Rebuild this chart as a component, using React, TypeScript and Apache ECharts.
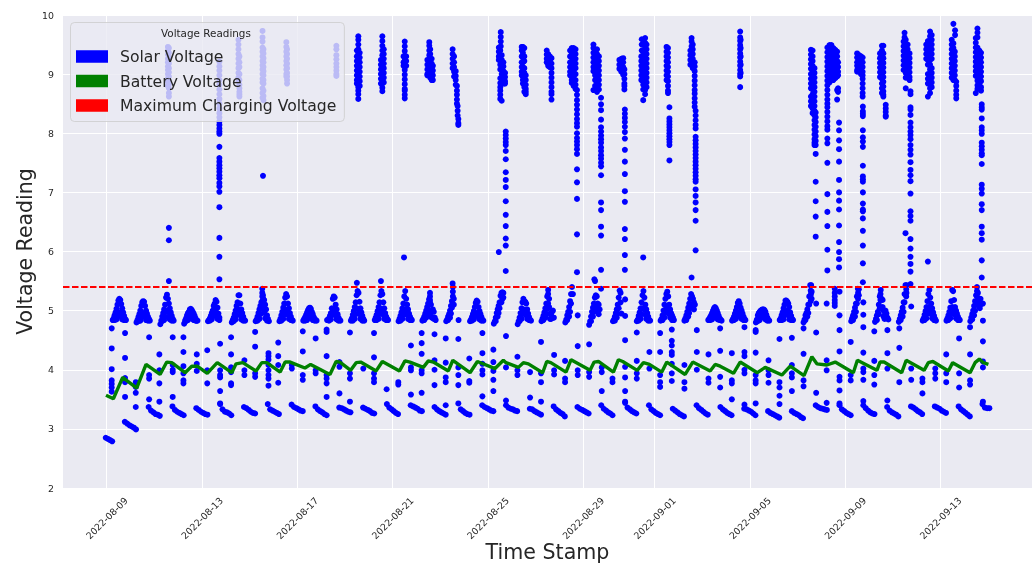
import React, { useEffect, useRef } from "react";
import * as echarts from "echarts";

const tickDays = [0, 4, 8, 12, 16, 20, 23, 27, 31, 35];
const tickLabels = ["2022-08-09", "2022-08-13", "2022-08-17", "2022-08-21", "2022-08-25", "2022-08-29", "2022-09-01", "2022-09-05", "2022-09-09", "2022-09-13"];
const yTicks = [2, 3, 4, 5, 6, 7, 8, 9, 10];
const maxChargingVoltage = 5.4;
const xExtent = [-1.835, 38.84];

type N = number | null;

const batteryVoltage: number[][] = [
  [-0.03,3.57],[0.28,3.51],[0.67,3.87],[1.26,3.69],[1.65,4.09],[2.24,3.92],[2.52,4.13],[2.73,4.12],[3.29,3.95],[3.57,4.06],[3.8,4.06],[4.22,3.94],[4.64,4.12],[5.25,3.95],[5.43,4.1],[5.71,4.12],[6.27,3.98],[6.51,4.12],[6.72,4.12],[7.28,3.96],[7.49,4.13],[7.7,4.13],[8.32,4.03],[8.56,4.09],[9.37,3.92],[9.63,4.14],[9.79,4.13],[10.24,3.99],[10.47,4.12],[10.66,4.13],[11.31,3.98],[11.57,4.14],[12.29,3.98],
  [12.52,4.15],[12.73,4.13],[13.29,4.04],[13.5,4.15],[13.71,4.13],[14.34,3.98],[14.53,4.16],[15.25,3.95],[15.56,4.14],[16.3,4.02],[16.65,4.16],[16.76,4.12],[17.28,4.04],[17.49,4.12],[17.7,4.1],[18.3,3.95],[18.47,4.14],[18.64,4.12],[19.28,3.96],[19.49,4.17],[20.29,3.99],[20.46,4.13],[20.64,4.14],[21.27,3.96],[21.48,4.17],[21.66,4.14],[22.27,3.99],[22.53,4.12],[22.78,4.09],[23.3,3.96],[23.51,4.13],[24.28,3.92],[24.6,4.13],[25.33,3.98],[25.54,4.09],
  [25.75,4.06],[26.31,3.94],[26.59,4.13],[27.31,3.95],[27.64,4.04],[28.34,3.91],[28.69,4.06],[29.27,3.9],[29.6,4.22],[29.81,4.1],[30.23,4.08],[30.58,4.13],[31.34,3.95],[31.51,4.16],[32.33,3.99],[32.46,4.13],[32.63,4.13],[33.37,3.95],[33.56,4.16],[34.31,3.99],[34.49,4.12],[34.68,4.14],[35.33,3.98],[35.51,4.12],[36.24,3.95],[36.45,4.12],[36.63,4.18],[36.8,4.12],[37.01,4.09],
];

// Falling readings just after each dawn: [day, readings at lowOffsets]
const lowOffsets = [-0.24, -0.14, -0.04, 0.05, 0.14, 0.23];
const lowBand: N[][] = [
  [null,null,2.85,2.83,2.81,2.79],[3.12,3.09,3.06,3.04,3.02,2.99],[3.37,3.31,3.28,3.25,3.24,3.22],[3.38,3.32,3.29,3.27,3.25,3.23],[3.35,3.32,3.29,3.27,3.25,3.24],[3.42,3.33,3.29,3.28,3.26,3.23],[3.37,3.35,3.32,3.29,3.27,3.26],[3.42,3.33,3.31,3.29,3.27,3.25],[3.41,3.37,3.35,3.33,3.31,3.3],[3.38,3.33,3.3,3.28,3.25,3.23],
  [3.36,3.35,3.33,3.31,3.29,3.28],[3.36,3.34,3.32,3.3,3.27,3.26],[3.42,3.36,3.33,3.3,3.27,3.25],[3.4,3.38,3.36,3.34,3.31,3.3],[3.37,3.33,3.3,3.28,3.26,3.24],[3.43,3.33,3.3,3.27,3.25,3.24],[3.4,3.37,3.35,3.33,3.31,3.3],[3.4,3.36,3.34,3.33,3.31,3.3],[3.34,3.33,3.3,3.28,3.26,3.24],[3.38,3.33,3.3,3.27,3.25,3.21],
  [3.37,3.34,3.32,3.3,3.28,3.26],[3.4,3.34,3.31,3.28,3.26,3.23],[3.44,3.36,3.33,3.3,3.28,3.26],[3.4,3.33,3.3,3.27,3.25,3.23],[3.34,3.31,3.28,3.25,3.23,3.21],[3.4,3.35,3.32,3.29,3.26,3.24],[3.37,3.33,3.3,3.27,3.25,3.23],[3.34,3.33,3.31,3.29,3.26,3.23],[3.3,3.27,3.25,3.23,3.21,3.19],[3.3,3.27,3.25,3.23,3.2,3.18],
  [3.4,3.37,3.35,3.34,3.33,3.32],[3.4,3.33,3.3,3.27,3.25,3.23],[3.4,3.35,3.31,3.28,3.26,3.25],[3.37,3.31,3.28,3.26,3.24,3.21],[3.38,3.36,3.33,3.3,3.28,3.25],[3.38,3.36,3.34,3.31,3.29,3.27],[3.38,3.33,3.3,3.27,3.24,3.21],[3.42,3.36,3.35,3.35,null,null],
];

// Daily arch around 5 V: outline at archOffsets and fill at archInnerOffsets
const archCentre = 0.53;
const archOffsets = [-0.28,-0.24,-0.2,-0.16,-0.12,-0.08,-0.04,0,0.04,0.08,0.12,0.16,0.2,0.24,0.28];
const archOutline: N[][] = [
  [4.84,4.87,4.92,4.97,5.03,5.1,5.17,5.2,5.18,5.11,5.04,4.97,4.91,4.86,4.84],
  [4.8,4.84,4.89,4.94,5,5.08,5.14,5.16,5.15,5.08,5,4.95,4.9,4.86,4.83],
  [4.77,4.83,4.9,4.96,5.02,5.1,5.22,5.27,5.2,5.12,5.04,4.97,4.91,4.86,4.83],
  [4.78,4.83,4.87,4.92,4.96,4.98,5.02,5.03,5.01,4.98,4.95,4.91,4.87,4.83,4.83],
  [4.82,4.84,4.87,4.91,4.96,5,5.08,5.12,5.18,5.15,5.05,4.95,4.88,null,null],
  [4.8,4.84,4.88,4.94,5,5.08,5.14,5.26,5.26,5.12,5.02,4.96,4.9,4.85,4.83],
  [4.82,4.85,4.9,4.96,5.02,5.08,5.14,5.37,5.2,5.18,5.1,5.02,4.92,4.86,4.82],
  [4.82,4.86,4.92,4.98,5.05,5.12,5.22,5.28,5.24,5.12,5.04,4.96,4.9,4.85,4.83],
  [4.83,4.86,4.89,4.93,4.97,5.01,5.04,5.05,5.03,4.98,4.94,4.89,4.86,4.84,4.83],
  [4.84,4.85,4.87,4.91,4.96,5.04,5.2,5.24,5.22,5.1,5.02,4.94,4.88,4.85,4.83],
  [4.83,4.87,4.93,4.99,5.06,5.14,5.26,5.33,5.3,5.15,5.04,4.97,4.91,4.86,4.83],
  [4.84,4.88,4.93,4.99,5.06,5.14,5.26,5.33,5.28,5.14,5.04,4.96,4.9,4.86,4.84],
  [4.82,4.86,4.91,4.97,5.04,5.12,5.24,5.33,5.2,5.1,5.02,4.95,4.9,4.86,4.84],
  [4.83,4.86,4.9,4.95,5,5.06,5.12,5.19,5.3,5.1,4.98,5.02,4.98,4.88,4.84],
  [4.82,4.85,4.9,4.94,5,5.08,5.16,5.4,5.1,null,null,null,null,4.84,null],
  [4.82,4.85,4.89,4.94,4.99,5.06,5.13,5.17,5.15,5.06,4.99,4.94,4.89,4.85,4.83],
  [4.78,4.82,4.88,4.96,5.02,5.08,5.14,5.25,5.3,5.31,5.3,null,null,null,null],
  [4.77,4.82,4.88,4.96,5.04,5.14,5.2,5.16,5.15,5.12,5.02,4.95,4.89,4.85,4.83],
  [4.82,4.86,4.91,4.97,5.04,5.12,5.24,5.35,5.2,4.95,4.93,4.98,5,4.88,null],
  [4.8,4.85,4.92,4.98,5.06,5.16,5.28,5.4,null,null,null,null,null,null,null],
  [4.76,4.82,4.9,4.98,5.05,5.12,5.22,5.26,5.24,5.12,5.1,5.02,null,null,null],
  [4.82,4.85,4.9,4.96,5.02,5.1,5.22,5.34,5.3,4.95,null,null,null,null,null],
  [4.82,4.85,4.91,4.97,5.04,5.14,5.26,5.33,5.22,5.1,5.02,4.96,4.9,4.85,4.83],
  [4.83,4.86,4.92,5,5.1,5.2,5.28,5.32,5.24,5.1,5.02,4.96,4.92,4.88,4.84],
  [4.83,4.87,4.92,4.98,5.05,5.12,5.2,5.28,5.24,5.2,5.14,5.1,null,null,null],
  [4.84,4.86,4.89,4.92,4.96,5,5.04,5.06,5.04,5,4.96,4.91,4.87,4.85,4.83],
  [4.83,4.86,4.9,4.95,5,5.06,5.13,5.16,5.12,5.05,5,4.95,4.9,4.86,4.84],
  [4.8,4.85,4.92,4.96,4.98,5,5.01,5.02,5.02,5.01,4.98,4.93,4.88,4.85,4.83],
  [4.84,4.87,4.92,4.97,5.04,5.1,5.17,5.17,5.15,5.12,5.06,4.97,4.91,4.86,4.84],
  [4.8,4.85,4.92,4.96,5.02,5.1,5.24,5.43,5.43,null,null,null,null,null,null],
  [null,null,null,null,null,null,null,null,null,null,null,null,null,null,null],
  [4.82,4.87,4.92,4.98,5.05,5.12,5.24,5.37,5.36,null,null,null,null,null,null],
  [4.81,4.86,4.92,4.98,5.1,5.24,5.35,5.2,5.18,5,4.98,5,4.95,4.88,4.85],
  [4.81,4.86,4.92,4.98,5.05,5.14,5.28,5.43,5.43,null,null,null,null,null,null],
  [4.83,4.87,4.93,4.99,5.06,5.16,5.28,5.35,5.22,5.12,5.04,4.97,4.91,4.86,4.83],
  [4.83,4.87,4.92,4.98,5.05,5.16,5.35,5.33,5.18,5.06,5,4.95,4.9,4.86,4.84],
  [4.82,4.88,4.94,5,5.08,5.16,5.26,5.4,5.3,5.2,5.12,null,null,null,null],
];
const archInnerOffsets = [-0.2,-0.12,-0.08,-0.04,0.04,0.08,0.12,0.2];
const archInner: N[][] = [
  [4.84,4.85,4.9,4.97,4.97,4.9,4.85,4.84],[4.82,4.83,4.89,4.96,4.95,4.89,4.84,4.83],[4.82,4.84,4.9,5,4.98,4.9,4.85,4.83],[4.82,4.84,4.86,4.9,4.9,4.86,4.84,4.83],[4.83,4.85,4.9,4.96,5,4.92,4.86,4.84],[4.82,4.85,4.92,5.02,5,4.92,4.85,4.83],[4.83,4.86,4.94,5.04,5.02,4.96,4.87,4.83],[4.83,4.86,4.93,5.02,5,4.93,4.86,4.84],[4.83,4.84,4.88,4.92,4.91,4.87,4.84,4.83],[4.83,4.85,4.92,5.02,5,4.92,4.85,4.83],
  [4.83,4.86,4.94,5.04,5.02,4.94,4.86,4.83],[4.84,4.86,4.94,5.04,5,4.93,4.86,4.84],[4.83,4.86,4.93,5.02,5,4.93,4.86,4.84],[4.84,4.88,4.95,5.02,5.18,4.9,4.88,4.86],[4.84,4.88,4.95,5.05,5.2,null,null,null],[4.83,4.85,4.9,4.96,4.96,4.9,4.85,4.83],[4.82,4.9,4.96,5.04,5.14,5.2,5.22,null],[4.82,4.86,4.94,5.02,5,4.92,4.86,4.84],[4.84,4.88,4.95,5.05,5.06,4.86,4.86,4.88],[4.84,4.9,4.98,5.12,5.28,null,null,null],
  [4.82,4.9,4.98,5.06,5.08,5,4.94,null],[4.83,4.88,4.95,5.04,5.14,null,null,null],[4.83,4.86,4.94,5.04,5.02,4.93,4.86,4.83],[4.84,4.88,4.96,5.06,5.02,4.94,4.88,4.84],[4.84,4.9,4.96,5.04,5.08,5.06,5.02,null],[4.84,4.85,4.9,4.96,4.96,4.9,4.85,4.84],[4.84,4.86,4.9,4.97,4.96,4.9,4.86,4.84],[4.82,4.84,4.88,4.92,4.92,4.88,4.85,4.83],[4.84,4.85,4.92,5,5,4.92,4.85,4.84],[4.84,4.9,4.96,5.1,5.3,null,null,null],
  [null,null,null,null,null,null,null,null],[4.84,4.9,4.98,5.12,5.26,null,null,null],[4.84,4.94,5.04,5.18,5.06,4.9,4.86,4.87],[4.84,4.9,4.98,5.14,5.3,null,null,null],[4.84,4.87,4.95,5.06,5.02,4.94,4.87,4.84],[4.84,4.87,4.94,5.06,5,4.93,4.87,4.84],[4.85,4.92,5,5.1,5.16,5.08,5.04,null],
];
const archStems: number[][] = [
  [6.53,5.3,5.24,5.16],[6.56,5.26,5.1],[13.57,5.24,5.14],[14.53,5.32,5.24],[18.53,5.28,5.12,5.04],[29.55,5.34,5.26,5.16],[29.59,5.32,5.2],[30.56,5.37,5.3,5.24,5.18,5.13,5.08],[31.54,5.3,5.2],[32.48,5.28,5.18],[33.56,5.36,5.24],[36.53,5.33,5.24],[36.78,5.12],[36.68,5.2,5.1],
];

// Isolated readings during the evening and morning transitions
const middleColumnsA: number[][] = [
  [0.21,4.7,4.36,4.01,3.82,3.76,3.7,3.63],[0.77,4.62,4.2,3.86,3.79,3.54],[1.22,3.79,3.71,3.61,3.37],[1.78,4.55,3.91,3.85,3.5],[2.21,4.26,3.99,3.77,3.46],[2.77,4.55,4.08,4,3.96,3.54],[3.22,4.55,4.3,4.06,3.94,3.82,3.77],[3.78,4.26,4.1,3.98],[4.22,4.33,3.99,3.77],[4.76,4.44,3.99,3.91,3.87,3.64,3.43],[5.22,4.55,4.26,4.04,3.96,3.77,3.74],[5.78,4.16,3.99,3.91],[6.23,4.64,4.39,3.94,3.88],[6.79,4.28,4.23,4.17,4.08,3.99,3.91,3.85,3.73],[7.2,4.46,4.23,4.08,3.78],[7.77,4.08,4.02],[8.23,4.65,4.31,3.91,3.83],[8.77,4.53,3.99,3.94],[9.23,4.68,4.64,4.23,3.91,3.85,3.77,3.54],[9.77,4.13,4.05,3.6],[10.21,4.63,3.94,3.85,3.46],[10.77,4.02],[11.22,4.62,4.21,3.94,3.85,3.79],[11.75,3.67],[12.24,3.79,3.75],
];
const middleColumnsB: number[][] = [
  [12.77,4.41,4.04,3.99,3.58],[13.22,4.62,4.45,4.27,3.99,3.94,3.61],[13.76,4.6,4.16,4,3.74],[14.23,4.53,4.12,3.87,3.79,3.4],[14.76,4.52,4.04,3.91,3.74],[15.22,4.19,3.81,3.78],[15.77,4.62,4.28,4.1,3.99,3.92,3.55],[16.23,4.34,4.13,3.98,3.83,3.64],[16.76,4.57,4.04,3.48],[17.24,4.22,3.99,3.91],[17.77,3.96,3.53],[18.23,4.47,3.94,3.79,3.46],[18.78,4.25,3.99,3.92],[19.24,4.15,3.85,3.79],[19.77,4.92,4.4,3.99,3.91],[20.25,4.43,3.96,3.88],[20.78,4.04,3.96,3.64],[21.23,3.85,3.79],[21.76,5.19,4.91,4.5,4.05,3.87,3.64,3.46],[22.25,4.63,4.15,3.94,3.85],[22.78,4.3,4.02],[23.23,4.62,4.3,3.91,3.79,3.71],[23.72,4.68,4.49,4.41,4.3,4.25,4.1,3.94,3.81],[24.25,4.08,3.79,3.68],[24.77,4.67,4.3,4],[25.26,4.26,3.85,3.78],
];
const middleColumnsC: number[][] = [
  [25.75,4.7,4.32,3.88,3.7],[26.24,4.28,3.82,3.77,3.5],[26.77,4.72,4.3,4.23,4,3.94,3.41],[27.24,4.67,4.64,4.29,3.91,3.82,3.77,3.43],[27.78,4.16,3.99,3.91,3.78],[28.24,4.52,3.79,3.7,3.56,3.42],[28.76,4.54,4.08,3.94,3.87,3.64],[29.25,4.7,4.27,3.82,3.72],[29.78,5.12,4.63,3.61],[30.22,5.12,4.16,3.99,3.44],[30.76,5.32,4.92,4.67,4.31,3.88,3.82,3.65,3.43],[31.23,4.47,3.91,3.82],[31.76,5.14,4.93,4.72,4.29,4.02,3.96,3.83,3.47],[32.22,4.65,4.15,3.91,3.75],[32.77,4.67,4.28,4.02,3.48],[33.27,4.7,4.37,3.79],[33.77,5.07,4.02,3.83],[34.24,3.85,3.79,3.6],[34.78,4.02,3.94,3.85],[35.24,4.26,3.94,3.79],[35.78,4.53,3.94,3.7],[36.24,4.72,4.26,3.82,3.75],[36.78,4.83,4.48,4.14,4.04,3.46],
];

// Open-circuit panel readings during daylight, above the charging limit
const highColumnsA: number[][] = [
  [2.57,9.46,9.4,9.33,9.26,9.2,9.13,9.07,9,8.93,8.87,8.8],[2.61,9.44,9.36,9.28,9.18,9.1,9.03,8.96,8.89,8.83,8.76,8.68,8.62,6.4,6.19,5.5],
  [4.73,9.21,9.13,9.06,8.98,8.9,8.82,8.74,8.66,8.58,8.5,8.42,8.34,8.27,8.2,8.14,8.08,8.03,7.99,7.77,7.58,7.52,7.46,7.41,7.35,7.29,7.24,7.16,7.1,7.01,6.75,6.23,5.91,5.53],
  [5.53,9.58,9.5,9.42,9.34,9.26,9.18,9.1,9.02,8.94,8.88],[5.57,9.3,9.2,9.12,9,8.9,8.82,8.76,8.7,8.66,8.62],
  [6.54,9.73,9.62,9.55,9.45,9.38,9.3,9.22,9.15,9.08,9,8.92,8.86,8.76,8.68,8.6],[6.58,9.42,9.35,9.27,9.2,9.12,9.05,8.98,8.9,8.84,8.72,8.63,8.56],[6.56,7.28],
  [7.54,9.54,9.46,9.38,9.3,9.22,9.15,9.08,9,8.96],[7.57,9.42,9.34,9.26,9.18,9.1,9.02,8.96,8.9,8.84],
  [9.64,9.48,9.42,9.32,9.25,9.18,9.12,9.06,9,8.97],
  [10.5,9.4,9.3,9.22,9.14,9.06,8.98,8.9,8.84,5.47],[10.56,9.64,9.58,9.5,9.42,9.34,9.26,9.18,9.1,9.02,8.94,8.86,8.78,8.72,8.66,8.58],[10.62,9.36,9.28,9.2,9.12,9.04,8.96,8.88,8.8],
  [11.51,9.24,9.16,9.08,9,8.92,8.84,5.5],[11.57,9.64,9.56,9.48,9.4,9.32,9.24,9.16,9.08,9,8.92,8.84,8.77,8.71],[11.63,9.42,9.34,9.26,9.18,9.1,9.02,8.94,8.86],
];
const highColumnsB: number[][] = [
  [12.46,9.3,9.2,9.14],[12.51,9.55,9.47,9.39,9.31,9.23,9.15,9.07,8.99,8.91,8.83,8.75,8.72,8.65,8.59],[12.57,9.3,9.22,9.14],[12.48,5.9],
  [13.46,9.24,9.16,9.08,9,8.98],[13.54,9.54,9.48,9.4,9.32,9.24,9.16,9.08,9],[13.58,9.42,9.34,9.26,9.18,9.1,9.02,8.94],[13.64,9.26,9.18,9.1,9.02,8.95,8.9],[13.69,9.14,9.06,8.98,8.9],
  [14.52,9.42,9.34,9.26,9.18,9.1,5.46],[14.58,9.3,9.2,9.12,9.04,8.96],[14.65,9.05,8.97,8.9,8.82],[14.7,8.8,8.72,8.65,8.57,8.5],[14.73,8.46,8.38,8.3],[14.76,8.24,8.17,8.14],
  [16.54,9.71,9.63,9.55,9.47],[16.46,9.45,9.38,9.3,9.24,5.99],[16.52,9.4,9.32,9.24,9.16,9.08,8.93,8.85,8.78,8.72,8.65,8.58],[16.58,9.32,9.24,9.16,9.08,9,8.92,8.55],[16.65,9.2,9.13,9.05,8.97,8.9,8.84],[16.72,9.02,8.95,8.88,8.84],
  [16.75,8.03,7.97,7.91,7.85,7.8,7.7,7.56,7.34,7.21,7.09,6.85,6.62,6.43,6.22,6.1,5.67],
  [17.42,9.46,9.4,9.3,9.2,9.12,9.04,8.98],[17.47,9.46,9.36,9.28,9.2,9.12,9.04,8.96,8.9,8.84],[17.53,9.44,9.3,9.22,9.1,9.02,8.9,8.84,8.78,8.7],[17.59,8.98,8.9,8.82,8.75,8.7,8.66],
  [18.47,9.4,9.33,9.26,9.2],[18.53,9.34,9.26,9.2,9.14],[18.6,9.3,9.22,9.16,9.12],[18.67,9.27,9.18,9.1,9.02,8.94,8.86,8.78,8.7,8.66,8.57],
  [19.45,9.4,9.3,9.2,9.12,9.04,8.98],[19.52,9.44,9.36,9.28,9.2,9.12,9.04,8.96,8.9,8.85],[19.6,9.44,9.36,9.28,9.2,9.12,9.04,8.96,8.88,8.8],[19.68,9.42,9.34,9.26,9.18,9.1,9,8.9,8.82,8.75],
  [19.74,8.73,8.65,8.56,8.48,8.4,8.32,8.24,8.17,8.11,8,7.92,7.86,7.8,7.73,7.65,7.39,7.17,6.89,6.29,5.65],
  [20.43,9.5,9.44,9.36,9.28,9.2,9.12,9.05,8.73],[20.5,9.38,9.3,9.22,9.14,9.06,8.98,8.9,8.8,5.5],[20.58,9.42,9.34,9.26,9.18,9.1,9.02,8.94,8.86,8.78,8.7],[20.66,9.3,9.22,9.14,9.06,8.98,8.9,8.82,8.74],
  [20.75,8.6,8.49,8.39,8.23,8.1,8.03,7.96,7.9,7.84,7.76,7.7,7.63,7.57,7.5,7.44,7.29,6.83,6.7,6.42,6.27,5.69,5.37],[20.47,5.53],
];
const highColumnsC: number[][] = [
  [21.52,9.24,9.16,9.09],[21.6,9.26,9.18,9.1,9.04],[21.68,9.27,9.2,9.12,9.05,8.99],[21.73,9.08,9,8.92,8.84,8.8,8.74],
  [21.75,8.4,8.33,8.26,8.19,8.11,8.02,7.91,7.72,7.52,7.31,7.02,6.84,6.38,6.21,5.94,5.69],
  [22.46,9.59,9.5,9.4],[22.44,9.3,9.22,9.14,9.06,8.98,8.9],[22.52,9.38,9.3,9.22,9.14,9.06,8.98,8.9,8.82,8.74,8.56,5.9],[22.6,9.61,9.53,9.45,9.37,9.29,9.21,9.13,9.05,8.97,8.89,8.81,8.73,8.66],[22.66,9.5,9.42,9.34,9.26,9.18,9.1,9.02,8.94,8.86,8.78],
  [23.5,9.46,9.38,9.3,9.22,9.14,9.06,8.98,8.9],[23.56,9.44,9.36,9.28,9.2,9.12,9.04,8.96,8.88,8.8,8.72,8.68],[23.62,8.44,8.25,8.2,8.15,8.1,8.05,8,7.95,7.9,7.85,7.8,7.54],
  [24.5,9.4,9.32,9.24,9.16],[24.55,9.61,9.55,9.47,9.39,9.31,9.23,9.15,5.56],[24.6,9.5,9.42,9.34,9.26,9.18,9.1],[24.68,9.2,9.13,9.05,8.97,8.89,8.81,8.73,8.67,8.59,8.52,8.45],
  [24.72,8.38,8.3,8.22,8.14,8.08,7.94,7.88,7.82,7.76,7.7,7.64,7.58,7.52,7.46,7.4,7.34,7.28,7.22,7.18,7.05,6.94,6.83,6.7,6.52,6.02],
  [26.59,9.72,9.62,9.56,9.49,9.42,9.35,9.28,9.21,9.14,9.07,9,8.96,8.78],[26.61,9.58,9.44,9.3,9.16,9.02],
  [29.56,9.41,9.33,9.25,9.17,9.09,9,8.92,8.84,8.76,8.62,8.54,8.46],[29.63,9.4,9.3,9.22,9.14,9.06,8.98,8.9,8.82,8.74,8.66,8.58,8.5,8.42,8.34],[29.71,9.1,9.02,8.94,8.86,8.78,8.7,8.62,8.54,8.46,8.38,8.3,8.22,8.14,8.06,7.98,7.9,7.84,7.8],
  [29.76,8.35,8.27,8.19,8.11,8.03,7.95,7.87,7.8,7.65,7.18,6.85,6.59,6.25],
];
const highColumnsD: number[][] = [
  [30.25,9.45,9.37,9.29,9.21,9.13,9.05,8.97,8.89,8.81,8.73,8.65,8.57,8.5,8.44,8.36,8.28,8.2,8.12,8.06,7.91,7.83,7.5,6.97,6.67,6.43,6.03,5.68],
  [30.34,9.49,9.41,9.33,9.25,9.17,9.09,9.01,8.93,8.86],[30.42,9.49,9.4,9.32,9.24,9.16,9.08,9,8.92],[30.5,9.44,9.36,9.28,9.2,9.12,9.04,8.96,8.9],[30.58,9.41,9.33,9.25,9.17,9.09,9.01,8.93],[30.66,9.38,9.3,9.22,9.14,9.06,8.96,8.73,8.57],[30.7,9.2,9.12,9.04,8.98,8.76,8.7],
  [30.74,8.18,8.05,7.88,7.73,7.52,7.21,7,6.86,6.71,6.44,6.16,5.99,5.87,5.73],
  [31.5,9.35,9.28,9.2,9.14,9.07,9.04],[31.58,9.32,9.24,9.16,9.08],[31.66,9.3,9.22,9.14,9.06,9],[31.73,9.28,9.2,9.12,9.04,8.98,8.92,8.84,8.76,8.68,8.62],
  [31.74,8.45,8.37,8.33,8.29,8.05,7.93,7.86,7.77,7.45,7.27,7.22,7.18,7,6.81,6.71,6.68,6.56,6.35,6.1,5.8,5.48],
  [32.46,9.35,9.27,9.19,9.11,9.03,8.95],[32.54,9.48,9.4,9.32,9.24,9.16,9.08,9,8.92,8.84,8.76,8.68],[32.6,9.48,9.35,9.27,9.19,9.11,9.03,8.95,8.87,8.79,8.71,8.65,8.62],[32.7,8.48,8.42,8.36,8.3,8.28],
  [33.49,9.7,9.62],[33.45,9.55,9.47,9.39,9.31,9.23,9.15,9.07],[33.54,9.58,9.5,9.42,9.34,9.26,9.18,9.1,9.02,8.94,8.76],[33.62,9.5,9.42,9.34,9.26,9.18,9.1,9.02,8.94],[33.7,9.35,9.27,9.19,9.11,9.03,8.95,8.9],
  [33.74,8.71,8.66,8.44,8.4,8.31,8.18,8.1,8.03,7.97,7.9,7.8,7.72,7.64,7.51,7.38,7.29,7.19,6.98,6.68,6.6,6.52,6.21,6.05,5.91,5.79,5.66,5.45],[33.53,6.31],
  [34.4,9.5,9.42,9.34,9.26],[34.47,9.56,9.48,9.4,9.32,9.24,9.16,9,8.92,8.84,8.62,5.83],[34.56,9.72,9.64,9.56,9.48,9.4,9.32,9.24,9.16,9.08,9,8.92,8.84,8.76,8.68],[34.63,9.66,9.58,9.5,9.42,9.34,9.26,9.1,9.02,8.94,8.86,8.78],
  [35.54,9.85,9.52,9.44,9.36,9.28,9.2,9.12,9.04,8.96,8.9],[35.61,9.74,9.66],[35.47,9.58,9.5,9.42,9.34,9.26,9.18,9.1,9.02,8.94],[35.6,9.38,9.3,9.22,9.14,9.06,8.98,8.9],[35.66,8.87,8.8,8.72,8.65,8.59],
  [36.55,9.77,9.7,9.62,9.45,9.37,9.29,9.21,9.13,9.05,8.97,8.89,8.81,8.75],[36.48,9.61,9.53,9.45,9.37,9.29,9.21,9.13,9.05,8.97,8.68],[36.63,9.4,9.32,9.24,9.16,9.08,9,8.92,8.84,8.76],[36.7,9.36,9.28,9.2,9.12,9.04,8.96,8.88,8.78,8.72],
  [36.73,8.49,8.44,8.4,8.25,8.1,8.05,7.99,7.84,7.78,7.72,7.66,7.63,7.48,7.13,7.06,6.98,6.8,6.7,6.42,6.31,6.2,5.85,5.56],
];

const ink = "#262626";
const font = "DejaVu Sans";

function solarPoints(): number[][] {
  const out: number[][] = [];
  [...highColumnsA, ...highColumnsB, ...highColumnsC, ...highColumnsD, ...middleColumnsA, ...middleColumnsB, ...middleColumnsC, ...archStems].forEach(([day, ...vals]) => {
    vals.forEach((v) => out.push([day, v]));
  });
  lowBand.forEach((row, n) => row.forEach((v, i) => { if (v !== null) out.push([n + lowOffsets[i], v]); }));
  archOutline.forEach((row, n) => row.forEach((v, i) => { if (v !== null) out.push([n + archCentre + archOffsets[i], v]); }));
  archInner.forEach((row, n) => row.forEach((v, i) => { if (v !== null) out.push([n + archCentre + archInnerOffsets[i], v]); }));
  return out;
}

export default function App() {
  const ref = useRef<HTMLDivElement>(null);
  useEffect(() => {
    const chart = echarts.init(ref.current!, null, { renderer: "svg" });
    chart.setOption({
      animation: false,
      grid: { left: 63, right: 3, top: 15, height: 473, show: true, backgroundColor: "#EAEAF2", borderWidth: 0, outerBoundsMode: "none" },
      xAxis: {
        type: "value",
        min: xExtent[0],
        max: xExtent[1],
        name: "Time Stamp",
        nameLocation: "middle",
        nameGap: 53,
        nameMoveOverlap: false,
        nameTextStyle: { fontFamily: font, fontSize: 20.6, color: ink, verticalAlign: "top" },
        axisLine: { show: false },
        axisTick: { show: false, customValues: tickDays },
        axisLabel: {
          customValues: tickDays,
          formatter: (v: number) => tickLabels[tickDays.indexOf(v)] ?? "",
          rotate: 45,
          align: "center",
          verticalAlign: "middle",
          margin: 30,
          fontFamily: font,
          fontSize: 9.4,
          color: ink,
        },
        splitLine: { show: true, lineStyle: { color: "#ffffff", width: 1 } },
      },
      yAxis: {
        type: "value",
        min: yTicks[0],
        max: yTicks[yTicks.length - 1],
        interval: 1,
        name: "Voltage Reading",
        nameLocation: "middle",
        nameGap: 27.5,
        nameMoveOverlap: false,
        nameTextStyle: { fontFamily: font, fontSize: 20.5, color: ink },
        axisLine: { show: false },
        axisTick: { show: false },
        axisLabel: { margin: 9, fontFamily: font, fontSize: 9.4, color: ink },
        splitLine: { show: true, lineStyle: { color: "#ffffff", width: 1 } },
      },
      legend: {
        left: 70.5,
        top: 22.5,
        orient: "vertical",
        padding: [26, 8, 8, 5.5],
        itemWidth: 32,
        itemHeight: 12.5,
        itemGap: 8.5,
        itemStyle: { borderWidth: 0 },
        backgroundColor: "rgba(234,234,242,0.8)",
        borderColor: "rgba(204,204,204,0.8)",
        borderWidth: 1,
        borderRadius: 4,
        textStyle: { fontFamily: font, fontSize: 15.65, color: ink, padding: [0, 0, 0, 7] },
        data: [
          { name: "Solar Voltage", icon: "rect", itemStyle: { color: "#0000ff" } },
          { name: "Battery Voltage", icon: "rect", itemStyle: { color: "#008000" } },
          { name: "Maximum Charging Voltage", icon: "rect", itemStyle: { color: "#ff0000" } },
        ],
      },
      graphic: [
        { type: "text", z: 100, left: 161, top: 28, style: { text: "Voltage Readings", fontFamily: font, fontSize: 10.4, fill: ink } },
      ],
      series: [
        { name: "Solar Voltage", type: "scatter", data: solarPoints(), symbol: "circle", symbolSize: 6, itemStyle: { color: "#0000ff", opacity: 1 }, large: false, progressive: 0, z: 2 },
        { name: "Battery Voltage", type: "line", data: batteryVoltage, showSymbol: false, symbol: "none", lineStyle: { color: "#008000", width: 3.4 }, itemStyle: { color: "#008000" }, z: 3 },
        { name: "Maximum Charging Voltage", type: "line", data: [[xExtent[0], maxChargingVoltage], [xExtent[1], maxChargingVoltage]], showSymbol: false, symbol: "none", lineStyle: { color: "#ff0000", width: 1.8, type: [6.5, 2.5] }, itemStyle: { color: "#ff0000" }, z: 4 },
      ],
    });
    return () => chart.dispose();
  }, []);
  return <div ref={ref} style={{ position: "fixed", left: 0, top: 0, width: 1035, height: 563 }} />;
}
